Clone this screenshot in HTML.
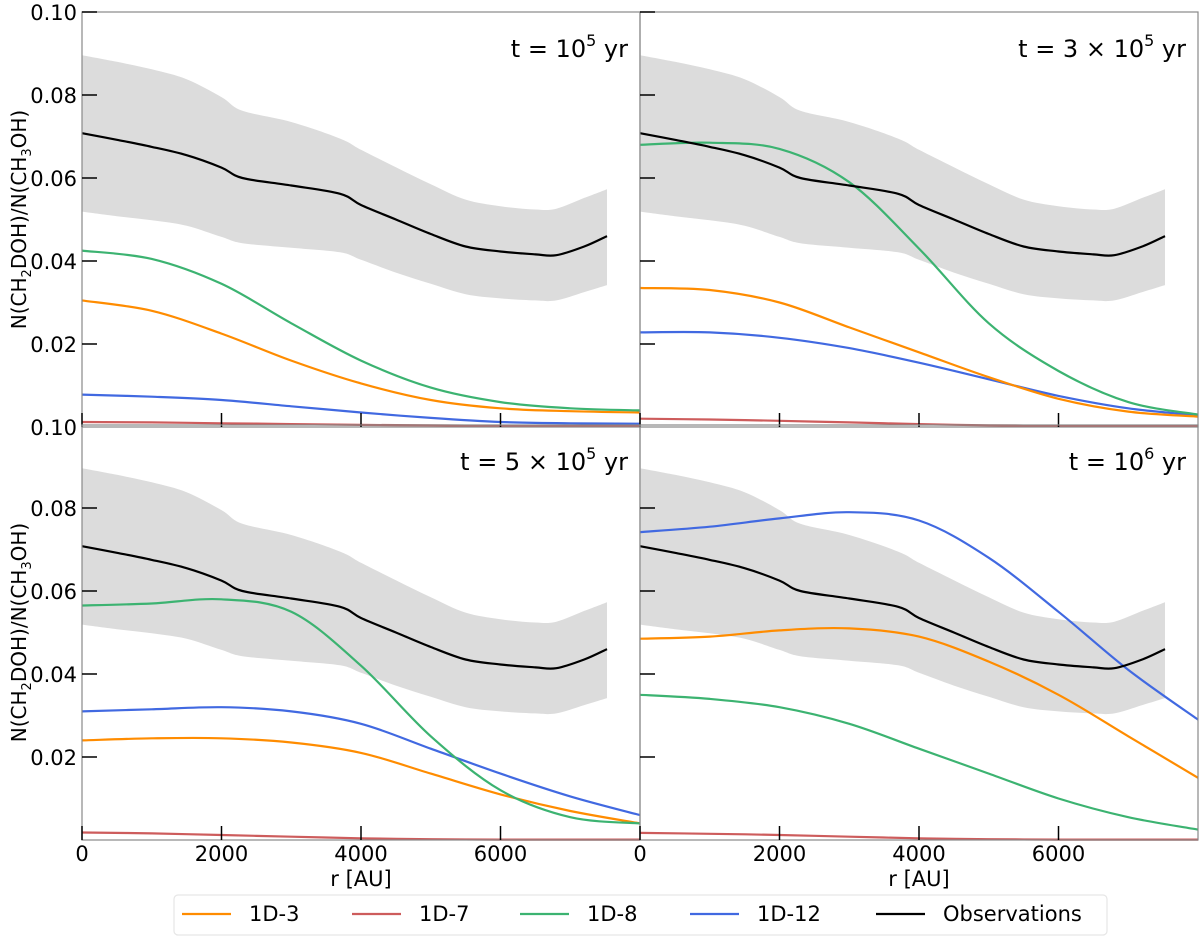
<!DOCTYPE html>
<html><head><meta charset="utf-8"><style>
body{margin:0;background:#fff;}
svg{display:block;font-family:"DejaVu Sans","Liberation Sans",sans-serif;}
</style></head><body>
<svg id="fig" width="1200" height="939" viewBox="0 0 1200 939"></svg>
<script>
const rObs=[0,500,1000,1500,2000,2300,3000,3700,4000,4500,5000,5500,6000,6500,6800,7200,7527];
const obsMid=[0.0708,0.0692,0.0675,0.0655,0.0625,0.0600,0.0582,0.0562,0.0535,0.0500,0.0465,0.0435,0.0423,0.0416,0.0414,0.0435,0.046];
const obsHi=[0.0896,0.0880,0.0862,0.0838,0.0795,0.0762,0.0735,0.0695,0.0668,0.0626,0.0585,0.0548,0.0532,0.0524,0.0526,0.0552,0.0573];
const obsLo=[0.0519,0.0508,0.0498,0.0485,0.0458,0.0443,0.0432,0.0421,0.0403,0.0372,0.0345,0.0320,0.0310,0.0305,0.0305,0.0325,0.0342];
const rMod=[0,1000,2000,3000,4000,5000,6000,7000,8000];
const p1_3=[0.0305,0.028,0.0225,0.016,0.0105,0.0065,0.0045,0.0038,0.0035];
const p1_7=[0.0012,0.0011,0.0009,0.0007,0.0005,0.0004,0.0003,0.0003,0.0003];
const p1_8=[0.0425,0.0405,0.0345,0.025,0.016,0.0095,0.006,0.0045,0.004];
const p1_12=[0.0078,0.0073,0.0065,0.005,0.0035,0.0022,0.0012,0.0009,0.0008];
const p2_3=[0.0335,0.033,0.030,0.024,0.0180,0.012,0.0068,0.0037,0.0025];
const p2_7=[0.002,0.0018,0.0015,0.0011,0.0007,0.0004,0.0003,0.0002,0.0002];
const p2_8=[0.068,0.0685,0.067,0.059,0.043,0.025,0.0135,0.006,0.003];
const p2_12=[0.0228,0.0228,0.0215,0.019,0.0155,0.0115,0.0075,0.0045,0.0028];
const p3_3=[0.024,0.0245,0.0245,0.0235,0.021,0.016,0.011,0.007,0.004];
const p3_7=[0.0018,0.0016,0.0012,0.0008,0.0004,0.0002,0.0001,0.0001,0.0001];
const p3_8=[0.0565,0.057,0.058,0.055,0.042,0.025,0.012,0.0055,0.004];
const p3_12=[0.031,0.0315,0.032,0.031,0.028,0.022,0.016,0.0105,0.006];
const p4_3=[0.0485,0.049,0.0505,0.051,0.049,0.043,0.035,0.025,0.015];
const p4_7=[0.0017,0.0015,0.0012,0.0008,0.0004,0.0002,0.0001,0.0001,0.0001];
const p4_8=[0.035,0.034,0.032,0.028,0.022,0.016,0.010,0.0055,0.0025];
const p4_12=[0.0742,0.0755,0.0775,0.079,0.077,0.068,0.055,0.041,0.029];
const yTicks=[0.02,0.04,0.06,0.08,0.10];
const xTicks=[0,2000,4000,6000];
const titles=["t = 10|5| yr","t = 3 × 10|5| yr","t = 5 × 10|5| yr","t = 10|6| yr"];
const seriesNames=["1D-3","1D-7","1D-8","1D-12","Observations"];
const colors={"1D-3":"#ff8c00","1D-7":"#cd5c5c","1D-8":"#3cb371","1D-12":"#4169e1","Observations":"#000"};
const panelData=[[p1_3,p1_7,p1_8,p1_12],[p2_3,p2_7,p2_8,p2_12],[p3_3,p3_7,p3_8,p3_12],[p4_3,p4_7,p4_8,p4_12]];

const NS="http://www.w3.org/2000/svg";
const svg=document.getElementById('fig');
function mk(tag,attrs,parent){const e=document.createElementNS(NS,tag);for(const k in attrs)e.setAttribute(k,attrs[k]);(parent||svg).appendChild(e);return e;}
function segs(pts){
  let d="";
  for(let i=0;i<pts.length-1;i++){
    const p0=pts[Math.max(0,i-1)],p1=pts[i],p2=pts[i+1],p3=pts[Math.min(pts.length-1,i+2)];
    const c1=[p1[0]+(p2[0]-p0[0])/6,p1[1]+(p2[1]-p0[1])/6];
    const c2=[p2[0]-(p3[0]-p1[0])/6,p2[1]-(p3[1]-p1[1])/6];
    d+=" C"+c1.map(v=>v.toFixed(1))+" "+c2.map(v=>v.toFixed(1))+" "+p2[0].toFixed(1)+","+p2[1].toFixed(1);
  }
  return d;
}
function spline(pts){return "M"+pts[0][0].toFixed(1)+","+pts[0][1].toFixed(1)+segs(pts);}
const panels=[{x0:82,x1:640,y0:12,y1:427},{x0:640,x1:1198,y0:12,y1:427},{x0:82,x1:640,y0:425,y1:840},{x0:640,x1:1198,y0:425,y1:840}];
panels.forEach((P,pi)=>{
  const g=mk('g',{});
  
  
  const xs=r=>P.x0+r/8000*(P.x1-P.x0);
  const ys=v=>P.y1-v/0.1*(P.y1-P.y0);
  const hi=rObs.map((r,i)=>[xs(r),ys(obsHi[i])]);
  const lo=rObs.map((r,i)=>[xs(r),ys(obsLo[i])]).reverse();
  const band=mk('path',{d:spline(hi)+" L"+lo[0][0].toFixed(1)+","+lo[0][1].toFixed(1)+segs(lo)+" Z",fill:"#dcdcdc",stroke:"none"},g);
  
  
  const order=[1,3,0,2];
  order.forEach(si=>{
    const arr=panelData[pi][si];
    const l=mk('path',{d:spline(rMod.map((r,i)=>[xs(r),ys(arr[i])])),fill:"none",stroke:colors[seriesNames[si]],"stroke-width":2.2},g);
    
    
  });
  const ol=mk('path',{d:spline(rObs.map((r,i)=>[xs(r),ys(obsMid[i])])),fill:"none",stroke:"#000","stroke-width":2.2,"stroke-linejoin":"round"},g);
  
  
  const fr=mk('rect',{x:P.x0,y:P.y0,width:P.x1-P.x0,height:P.y1-P.y0,fill:"none",stroke:"#888","stroke-width":1.2},g);
  
  
  yTicks.forEach(v=>{ if(v<0.1||pi<2) mk('line',{x1:P.x0,x2:P.x0+15,y1:ys(v),y2:ys(v),stroke:"#000","stroke-width":1.5},g); });
  xTicks.forEach(v=>mk('line',{x1:xs(v),x2:xs(v),y1:P.y1,y2:P.y1-14,stroke:"#000","stroke-width":1.5},g));
  if(pi%2===0){
    const ticks=pi===0?[0.02,0.04,0.06,0.08,0.10]:[0.02,0.04,0.06,0.08];
    ticks.forEach(v=>{const t=mk('text',{x:77,y:ys(v)+8,"text-anchor":"end","font-size":21},g);t.textContent=v.toFixed(2);
      });
    const yl=mk('text',{transform:`translate(26,${(P.y0+P.y1)/2}) rotate(-90)`,"text-anchor":"middle","font-size":20},g);
    yl.innerHTML='N(CH<tspan font-size="13" dy="5">2</tspan><tspan dy="-5">DOH)/N(CH</tspan><tspan font-size="13" dy="5">3</tspan><tspan dy="-5">OH)</tspan>';
    
  }
  if(pi===0){const t=mk('text',{x:77,y:ys(0)+8,"text-anchor":"end","font-size":21},g);t.textContent="0.10";
    }
  if(pi>=2){
    xTicks.forEach(v=>{const t=mk('text',{x:xs(v),y:861,"text-anchor":"middle","font-size":21},g);t.textContent=v;
      });
    const xl=mk('text',{x:xs(4000),y:886,"text-anchor":"middle","font-size":21},g);xl.textContent="r [AU]";
    
  }
  const parts=titles[pi].split('|');
  const tt=mk('text',{x:P.x1-12,y:P.y0+45,"text-anchor":"end","font-size":24},g);
  tt.innerHTML=parts[0]+'<tspan font-size="16" dy="-11">'+parts[1]+'</tspan><tspan dy="11">'+parts[2]+'</tspan>';
  
});
const lg=mk('g',{});


mk('rect',{x:174,y:895,width:933,height:40,rx:4,fill:"#fff",stroke:"#e6e6e6","stroke-width":1.2},lg);
const lx=[182,352,520,690,876];
seriesNames.forEach((n,i)=>{
  const e=mk('g',{},lg);
  
  
  mk('line',{x1:lx[i],x2:lx[i]+49,y1:914,y2:914,stroke:colors[n],"stroke-width":2.2},e);
  const t=mk('text',{x:lx[i]+67,y:921,"font-size":21},e);t.textContent=n;
});
</script>
</body></html>
